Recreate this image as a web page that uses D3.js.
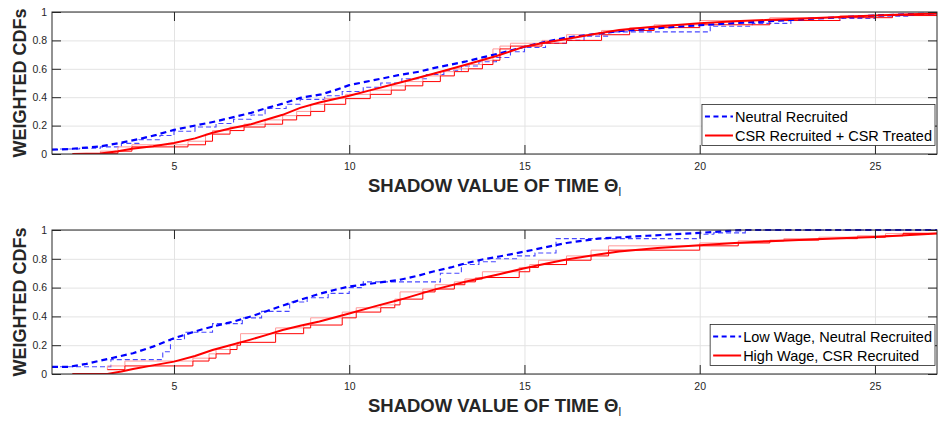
<!DOCTYPE html>
<html>
<head>
<meta charset="utf-8">
<script src="https://cdn.jsdelivr.net/npm/d3@7"></script>
<style>
  body { margin: 0; background: #fff; }
  svg { display: block; font-family: 'Liberation Sans', Arial, Helvetica, sans-serif; }
</style>
</head>
<body>
<div id="chart"></div>
<script>
const xTicks = [5, 10, 15, 20, 25];
const yTicks = [0, 0.2, 0.4, 0.6, 0.8, 1];
const xDomain = [1.52, 26.77];
const xLabel = 'SHADOW VALUE OF TIME \u0398';
const xLabelSub = 'l';
const yLabel = 'WEIGHTED CDFs';

// top panel
const topLegend = ['Neutral Recruited', 'CSR Recruited + CSR Treated'];
const topBlueFit = [[1.52,0.03],[2.0,0.035],[2.5,0.045],[2.9,0.053],[3.5,0.08],[4.0,0.105],[4.5,0.135],[5.0,0.17],[5.7,0.205],[6.2,0.23],[6.7,0.26],[7.2,0.29],[7.6,0.32],[8.1,0.355],[8.6,0.395],[9.2,0.42],[9.6,0.45],[10.0,0.485],[10.7,0.52],[11.4,0.555],[12.0,0.58],[12.4,0.605],[13.3,0.65],[13.8,0.68],[14.3,0.71],[15.0,0.755],[15.6,0.79],[16.2,0.82],[17.0,0.845],[17.7,0.865],[18.5,0.88],[19.3,0.895],[20.0,0.907],[21.0,0.922],[22.0,0.935],[23.0,0.95],[24.0,0.963],[25.0,0.975],[26.0,0.985],[26.77,0.99]];
const topBlueEmp = [[1.52,0.035],[2.3,0.04],[2.9,0.05],[3.5,0.075],[4.0,0.1],[4.6,0.13],[5.0,0.16],[5.6,0.19],[6.2,0.215],[6.7,0.245],[7.2,0.275],[7.6,0.32],[8.2,0.35],[8.6,0.385],[9.3,0.41],[9.8,0.44],[10.4,0.47],[10.9,0.5],[11.5,0.53],[12.2,0.56],[12.7,0.59],[13.2,0.62],[13.7,0.65],[14.2,0.68],[14.6,0.72],[15.0,0.75],[15.6,0.78],[16.2,0.8],[16.7,0.83],[17.4,0.86],[20.3,0.9],[21.5,0.92],[22.6,0.94],[24.0,0.955],[25.0,0.97],[26.0,0.98],[26.77,0.98]];
const topRedFit = [[2.1,0],[2.9,0.003],[3.4,0.02],[3.8,0.037],[4.4,0.055],[5.0,0.077],[5.6,0.11],[6.1,0.15],[6.6,0.18],[7.2,0.21],[7.6,0.24],[8.1,0.276],[8.6,0.325],[9.15,0.363],[10.0,0.41],[10.7,0.455],[11.4,0.5],[12.4,0.565],[13.3,0.627],[14.2,0.69],[15.0,0.756],[15.6,0.785],[16.2,0.81],[17.0,0.845],[17.7,0.873],[18.6,0.895],[20.0,0.92],[21.0,0.935],[22.0,0.945],[23.0,0.955],[24.0,0.965],[25.0,0.975],[26.0,0.985],[26.77,0.99]];
const topRedEmp = [[2.9,0.005],[3.4,0.02],[3.8,0.05],[5.4,0.065],[5.9,0.09],[6.1,0.14],[6.6,0.165],[7.0,0.19],[7.6,0.21],[8.1,0.24],[8.5,0.27],[8.9,0.3],[9.3,0.35],[9.9,0.39],[10.6,0.42],[11.2,0.45],[11.6,0.48],[12.1,0.51],[12.6,0.55],[13.0,0.58],[13.4,0.6],[13.8,0.63],[14.1,0.66],[14.3,0.74],[14.6,0.76],[15.5,0.78],[16.2,0.8],[17.2,0.84],[18.0,0.87],[18.7,0.89],[20.0,0.91],[22.0,0.94],[24.0,0.96],[25.5,0.975],[26.77,0.98]];

// bottom panel
const bottomLegend = ['Low Wage, Neutral Recruited', 'High Wage, CSR Recruited'];
const bottomBlueFit = [[1.52,0.05],[2.0,0.05],[2.5,0.07],[2.9,0.093],[3.4,0.12],[3.83,0.144],[4.4,0.19],[5.0,0.248],[5.4,0.28],[5.74,0.306],[6.2,0.335],[6.7,0.364],[7.2,0.4],[7.64,0.436],[8.1,0.475],[8.6,0.515],[9.15,0.557],[9.6,0.585],[10.0,0.608],[10.7,0.63],[11.44,0.654],[12.0,0.685],[12.4,0.712],[12.9,0.74],[13.34,0.77],[13.8,0.795],[14.28,0.816],[15.0,0.85],[15.6,0.88],[16.2,0.91],[17.1,0.94],[18.5,0.96],[20.0,0.98],[21.2,1.0],[26.77,1.0]];
const bottomBlueEmp = [[1.52,0.05],[3.2,0.1],[4.68,0.155],[4.9,0.24],[5.3,0.29],[6.1,0.35],[6.95,0.39],[7.5,0.435],[8.3,0.5],[8.8,0.53],[9.4,0.56],[10.0,0.6],[10.4,0.64],[12.6,0.7],[13.2,0.76],[13.7,0.78],[14.2,0.8],[14.8,0.82],[15.3,0.84],[15.9,0.94],[20.0,0.97],[20.4,0.98],[21.3,1.0],[26.77,1.0]];
const bottomRedFit = [[2.1,0],[3.1,0],[3.5,0.018],[3.83,0.035],[4.4,0.06],[5.0,0.086],[5.6,0.125],[6.1,0.167],[6.6,0.2],[7.16,0.237],[7.6,0.268],[8.1,0.306],[8.6,0.335],[9.15,0.364],[10.0,0.42],[10.7,0.468],[11.44,0.515],[12.4,0.584],[13.34,0.642],[14.28,0.693],[15.0,0.735],[15.6,0.765],[16.2,0.795],[17.1,0.83],[17.7,0.85],[18.8,0.875],[20.0,0.894],[21.0,0.91],[22.0,0.922],[23.0,0.933],[24.0,0.943],[25.0,0.952],[26.0,0.965],[26.77,0.976]];
const bottomRedEmp = [[3.1,0.03],[3.6,0.056],[5.54,0.09],[6.0,0.11],[6.2,0.14],[6.6,0.17],[6.8,0.2],[6.9,0.22],[7.9,0.28],[8.7,0.32],[8.9,0.34],[9.8,0.39],[10.2,0.43],[10.9,0.46],[11.3,0.48],[11.45,0.52],[12.1,0.57],[12.45,0.59],[13.0,0.62],[13.3,0.64],[13.6,0.66],[13.8,0.67],[14.85,0.71],[15.15,0.74],[15.4,0.76],[16.2,0.79],[16.9,0.82],[17.4,0.86],[20.0,0.89],[21.1,0.91],[22.0,0.925],[22.4,0.93],[23.4,0.94],[24.5,0.95],[25.3,0.96],[25.8,0.975],[26.77,0.98]];

const AXIS_COLOR = '#262626';

class CdfPanel {
  constructor(_config, _data) {
    this.config = {
      svg: _config.svg,
      id: _config.id,
      left: 52,
      right: 937,
      top: _config.top,
      bottom: _config.bottom,
      legend: _config.legend
    };
    this.data = _data;
    this.initVis();
  }

  initVis() {
    const vis = this;
    const c = vis.config;

    vis.width = c.right - c.left;
    vis.height = c.bottom - c.top;

    vis.xScale = d3.scaleLinear().domain(xDomain).range([0, vis.width]);
    vis.yScale = d3.scaleLinear().domain([0, 1]).range([vis.height, 0]);

    vis.chart = c.svg.append('g')
      .attr('transform', `translate(${c.left},${c.top})`);

    vis.chart.append('clipPath').attr('id', 'clip-' + c.id)
      .append('rect').attr('width', vis.width).attr('height', vis.height + 1).attr('y', -1);

    // grid
    vis.chart.append('g')
      .attr('transform', `translate(0,${vis.height})`)
      .call(d3.axisBottom(vis.xScale).tickValues(xTicks).tickSize(-vis.height).tickFormat(''))
      .call(g => g.select('.domain').remove())
      .selectAll('line').attr('stroke', '#e3e3e3');
    vis.chart.append('g')
      .call(d3.axisLeft(vis.yScale).tickValues(yTicks).tickSize(-vis.width).tickFormat(''))
      .call(g => g.select('.domain').remove())
      .selectAll('line').attr('stroke', '#e3e3e3');

    vis.renderVis();
  }

  renderVis() {
    const vis = this;
    const c = vis.config;

    const line = d3.line().x(d => vis.xScale(d[0])).y(d => vis.yScale(d[1]));
    const stepAfter = d3.line().x(d => vis.xScale(d[0])).y(d => vis.yScale(d[1])).curve(d3.curveStepAfter);
    const stepBefore = d3.line().x(d => vis.xScale(d[0])).y(d => vis.yScale(d[1])).curve(d3.curveStepBefore);

    const lines = vis.chart.append('g').attr('clip-path', `url(#clip-${c.id})`);

    lines.append('path').attr('d', stepAfter(vis.data.blueEmp))
      .attr('fill', 'none').attr('stroke', '#4848ff').attr('stroke-width', 1.1)
      .attr('stroke-dasharray', '5,3');
    lines.append('path').attr('d', stepBefore(vis.data.redEmp))
      .attr('fill', 'none').attr('stroke', '#ff9a9a').attr('stroke-width', 1);
    lines.append('path').attr('d', stepAfter(vis.data.redEmp))
      .attr('fill', 'none').attr('stroke', '#f00').attr('stroke-width', 1);
    lines.append('path').attr('d', line(vis.data.blueFit))
      .attr('fill', 'none').attr('stroke', '#00f').attr('stroke-width', 2.2)
      .attr('stroke-dasharray', '6,4');
    lines.append('path').attr('d', line(vis.data.redFit))
      .attr('fill', 'none').attr('stroke', '#f00').attr('stroke-width', 2);

    // axes with inside ticks
    const tickLen = 9;
    const styleAxis = g => {
      g.select('.domain').remove();
      g.selectAll('line').attr('stroke', AXIS_COLOR);
      g.selectAll('text').attr('fill', AXIS_COLOR).attr('font-size', 10.5)
        .attr('font-family', "'Liberation Sans', Arial, sans-serif");
    };
    vis.chart.append('g')
      .attr('transform', `translate(0,${vis.height})`)
      .call(d3.axisBottom(vis.xScale).tickValues(xTicks).tickSize(-tickLen).tickPadding(9))
      .call(styleAxis);
    vis.chart.append('g')
      .call(d3.axisTop(vis.xScale).tickValues(xTicks).tickSize(-tickLen).tickFormat(''))
      .call(styleAxis);
    vis.chart.append('g')
      .call(d3.axisLeft(vis.yScale).tickValues(yTicks).tickSize(-tickLen).tickPadding(5).tickFormat(d3.format('~g')))
      .call(styleAxis);
    vis.chart.append('g')
      .attr('transform', `translate(${vis.width},0)`)
      .call(d3.axisRight(vis.yScale).tickValues(yTicks).tickSize(-tickLen).tickFormat(''))
      .call(styleAxis);

    vis.chart.append('rect')
      .attr('width', vis.width).attr('height', vis.height)
      .attr('fill', 'none').attr('stroke', AXIS_COLOR).attr('stroke-width', 1);

    // labels
    vis.chart.append('text')
      .attr('transform', 'rotate(-90)')
      .attr('x', -vis.height / 2)
      .attr('y', 26 - c.left)
      .attr('text-anchor', 'middle')
      .attr('font-size', 18)
      .attr('font-weight', 'bold')
      .attr('fill', AXIS_COLOR)
      .text(yLabel);

    const xl = vis.chart.append('text')
      .attr('x', vis.width / 2)
      .attr('y', vis.height + 38)
      .attr('text-anchor', 'middle')
      .attr('font-size', 18.5)
      .attr('font-weight', 'bold')
      .attr('fill', AXIS_COLOR);
    xl.append('tspan').text(xLabel);
    xl.append('tspan').attr('dy', 4).attr('font-size', 12).attr('font-weight', 'normal').text(xLabelSub);

    // legend
    const lg = vis.chart.append('g');
    const box = lg.append('rect').attr('fill', '#fff').attr('stroke', AXIS_COLOR).attr('stroke-width', 0.8);
    const items = [
      { label: c.legend[0], color: '#00f', dash: '5,3.5' },
      { label: c.legend[1], color: '#f00', dash: null }
    ];
    let maxW = 0;
    items.forEach((it, i) => {
      const yy = 12 + i * 19;
      lg.append('line').attr('x1', 3).attr('x2', 31).attr('y1', yy).attr('y2', yy)
        .attr('stroke', it.color).attr('stroke-width', 2)
        .attr('stroke-dasharray', it.dash);
      const t = lg.append('text').attr('x', 33).attr('y', yy).attr('dy', '0.35em')
        .attr('font-size', 14.5).attr('fill', '#000').text(it.label);
      maxW = Math.max(maxW, t.node().getComputedTextLength());
    });
    const bw = 33 + maxW + 3, bh = 41;
    box.attr('width', bw).attr('height', bh);
    lg.attr('transform', `translate(${vis.width - 2 - bw},${vis.height - 8.5 - bh})`);
  }
}

const svg = d3.select('#chart').append('svg').attr('width', 938).attr('height', 421);

new CdfPanel({ svg, id: 'top', top: 12, bottom: 154, legend: topLegend },
  { blueFit: topBlueFit, blueEmp: topBlueEmp, redFit: topRedFit, redEmp: topRedEmp });
new CdfPanel({ svg, id: 'bottom', top: 230, bottom: 374, legend: bottomLegend },
  { blueFit: bottomBlueFit, blueEmp: bottomBlueEmp, redFit: bottomRedFit, redEmp: bottomRedEmp });
</script>
</body>
</html>
